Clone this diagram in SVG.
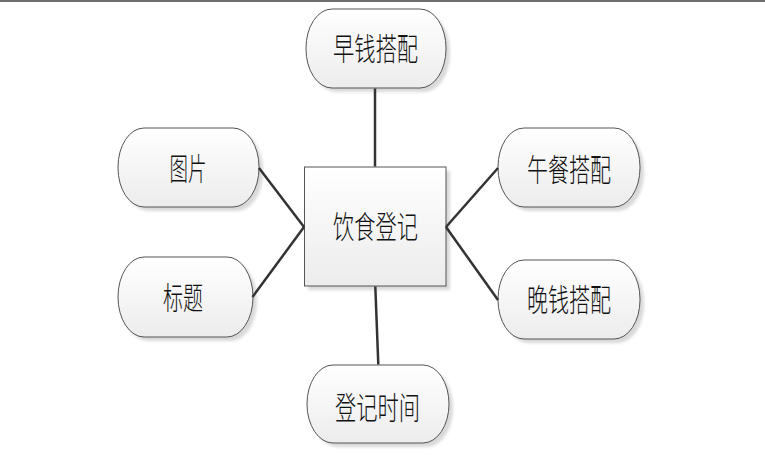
<svg xmlns="http://www.w3.org/2000/svg" width="765" height="458" viewBox="0 0 765 458">
<defs>
<linearGradient id="g" x1="0" y1="0" x2="0" y2="1">
<stop offset="0" stop-color="#ffffff"/>
<stop offset="1" stop-color="#ececec"/>
</linearGradient>
<filter id="sh" x="-20%" y="-20%" width="150%" height="150%">
<feGaussianBlur stdDeviation="1.5"/>
</filter>
</defs>
<style>
.n{fill:url(#g);stroke:#555;stroke-width:1}
.s{fill:#d9d9d9;filter:url(#sh)}
.t{font-family:"Noto Sans CJK SC","Liberation Sans",sans-serif;font-size:31px;font-weight:300;fill:#111;text-anchor:middle}
.c{stroke:#333;stroke-width:2.5;fill:none}
</style>
<rect x="0" y="0" width="765" height="2" fill="#6e6e6e"/>
<g id="center">
<rect class="s" x="308" y="171" width="142" height="119"/>
<rect class="n" x="304.5" y="167" width="141.5" height="119"/>
<text class="t" x="375.5" y="238" textLength="85" lengthAdjust="spacingAndGlyphs">饮食登记</text>
</g>
<g id="n-top">
<rect class="s" x="310" y="13" width="140" height="79" rx="26" ry="39"/>
<rect class="n" x="306" y="9" width="140" height="79" rx="26" ry="39"/>
<text class="t" x="375.5" y="60" textLength="85" lengthAdjust="spacingAndGlyphs">早钱搭配</text>
</g>
<g id="n-pic">
<rect class="s" x="122" y="132" width="141" height="79" rx="26" ry="39"/>
<rect class="n" x="118" y="128" width="141" height="79" rx="26" ry="39"/>
<text class="t" x="188" y="180" textLength="37" lengthAdjust="spacingAndGlyphs">图片</text>
</g>
<g id="n-title">
<rect class="s" x="122" y="261" width="135" height="80" rx="26" ry="40"/>
<rect class="n" x="118" y="257" width="135" height="80" rx="26" ry="40"/>
<text class="t" x="183" y="309" textLength="40" lengthAdjust="spacingAndGlyphs">标题</text>
</g>
<g id="n-lunch">
<rect class="s" x="502" y="132" width="142" height="79" rx="26" ry="39"/>
<rect class="n" x="498" y="128" width="142" height="79" rx="26" ry="39"/>
<text class="t" x="569" y="181" textLength="84" lengthAdjust="spacingAndGlyphs">午餐搭配</text>
</g>
<g id="n-dinner">
<rect class="s" x="502" y="264" width="142" height="79" rx="26" ry="39"/>
<rect class="n" x="498" y="260" width="142" height="79" rx="26" ry="39"/>
<text class="t" x="569" y="311" textLength="84" lengthAdjust="spacingAndGlyphs">晚钱搭配</text>
</g>
<g id="n-time">
<rect class="s" x="311" y="369" width="142" height="78" rx="26" ry="39"/>
<rect class="n" x="307" y="365" width="142" height="78" rx="26" ry="39"/>
<text class="t" x="377.5" y="419" textLength="85" lengthAdjust="spacingAndGlyphs">登记时间</text>
</g>
<g id="connectors">
<line class="c" x1="375" y1="88.5" x2="375" y2="166.5"/>
<line class="c" x1="375.3" y1="286.5" x2="378.3" y2="364.5"/>
<line class="c" x1="259" y1="168" x2="304" y2="227"/>
<line class="c" x1="252.5" y1="297" x2="304" y2="227"/>
<line class="c" x1="446" y1="227" x2="498" y2="168"/>
<line class="c" x1="446" y1="227" x2="498" y2="300"/>
</g>
</svg>
